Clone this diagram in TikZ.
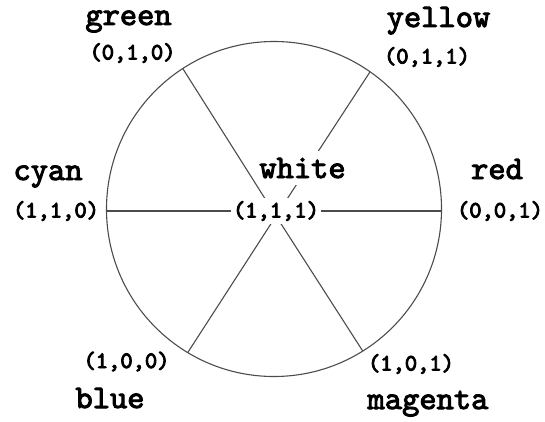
\documentclass[tikz,border=0pt]{standalone}
\usepackage{fontspec}
\newfontfamily\wheelname{lmmono10-regular}[Extension=.otf,FakeBold=3]
\newfontfamily\wheelrgb{lmmono10-regular}[Extension=.otf,FakeBold=4]
\usetikzlibrary{calc}

\begin{document}
\begin{tikzpicture}[x=1bp,y=1bp,
  wheel/.style={black!70,line width=1.1bp},
  namelbl/.style={font=\wheelname\fontsize{33}{33}\selectfont,anchor=base,inner xsep=1bp,inner ysep=0bp},
  rgblbl/.style={font=\wheelrgb\fontsize{23.5}{23.5}\selectfont,inner xsep=1.5bp,inner ysep=3bp},
  masked/.style={fill=white}]
  \useasboundingbox (0,0) rectangle (545,421);
  % colour wheel
  \coordinate (ctr) at (274,212);
  \coordinate (hub) at (276,205);
  \coordinate (W) at (106.5,210);
  \coordinate (E) at (441.5,210);
  \foreach \ang/\nm in {123/ul,55/ur,239/ll,302/lr}
    \coordinate (\nm) at ($(ctr)+(\ang:167.5)$);
  \draw[wheel] (ctr) circle[radius=167.5];
  \draw[wheel] (W) -- (E);
  \foreach \nm in {ul,ur,ll,lr} \draw[wheel] (hub) -- (\nm);
  % centre labels hide the spokes
  \node[namelbl,masked,inner ysep=7bp] (nwhite) at (302.5,243) {white};
  \node[rgblbl,masked] (cwhite) at (276,210) {(1,1,1)};
  % outer labels
  \node[namelbl] (ngreen) at (128.5,396) {green};
  \node[rgblbl] (cgreen) at (132.5,368) {(0,1,0)};
  \node[namelbl] (nyellow) at (438.5,394) {yellow};
  \node[rgblbl] (cyellow) at (427,364) {(0,1,1)};
  \node[namelbl] (ncyan) at (48,241) {cyan};
  \node[rgblbl] (ccyan) at (56,210) {(1,1,0)};
  \node[namelbl] (nred) at (497,242) {red};
  \node[rgblbl] (cred) at (500,210) {(0,0,1)};
  \node[namelbl] (nblue) at (110,13) {blue};
  \node[rgblbl] (cblue) at (126.5,59.5) {(1,0,0)};
  \node[namelbl] (nmagenta) at (428,12) {magenta};
  \node[rgblbl] (cmagenta) at (411,57) {(1,0,1)};
\end{tikzpicture}
\end{document}
